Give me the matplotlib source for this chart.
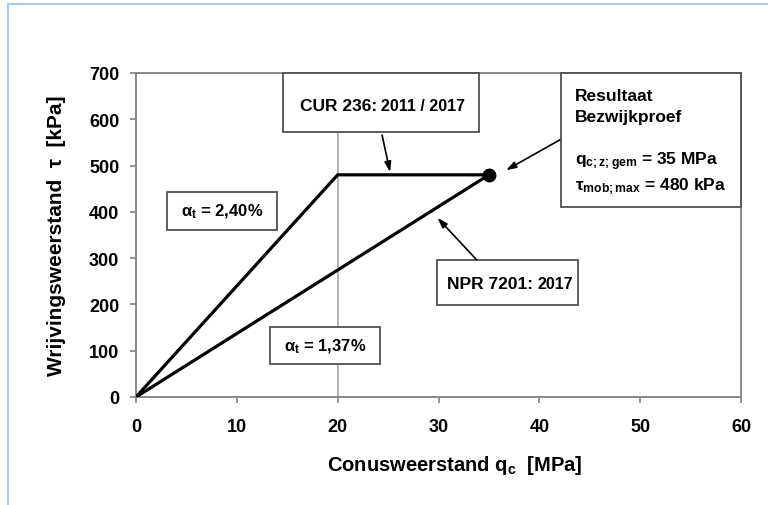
import matplotlib
matplotlib.use("Agg")
import matplotlib.pyplot as plt
from matplotlib.lines import Line2D
from matplotlib.patches import Rectangle

plt.rcParams['font.family'] = ['Liberation Sans', 'DejaVu Sans']
plt.rcParams['font.weight'] = 'bold'
plt.rcParams['mathtext.fontset'] = 'custom'
plt.rcParams['mathtext.rm'] = 'Liberation Sans:bold'
plt.rcParams['mathtext.it'] = 'Liberation Sans:bold'
plt.rcParams['mathtext.bf'] = 'Liberation Sans:bold'

# data
cur_x = [0, 20, 35]
cur_y = [0, 480, 480]
npr_x = [0, 35]
npr_y = [0, 480]
result_x = [35]
result_y = [480]
x_ticks = [0, 10, 20, 30, 40, 50, 60]
y_ticks = [0, 100, 200, 300, 400, 500, 600, 700]

W, H = 768, 506
fig = plt.figure(figsize=(W / 100, H / 100), dpi=100)
ax = fig.add_axes([136 / W, 1 - 398 / H, (741 - 136) / W, (398 - 74) / H])

ax.set_xlim(0, 60)
ax.set_ylim(0, 700)
ax.set_xticks(x_ticks)
ax.set_yticks(y_ticks)
ax.tick_params(axis='both', labelsize=13, direction='out', length=4, color='#808080', width=1.2)
ax.tick_params(axis='x', pad=11)
ax.tick_params(axis='y', pad=8)
for lab in ax.get_xticklabels() + ax.get_yticklabels():
    lab.set_fontweight('bold')
for s in ax.spines.values():
    s.set_color('#888888')
    s.set_linewidth(1.4)

ax.axvline(20, color='#a8a8a8', lw=1.2, zorder=1)

ax.plot(cur_x, cur_y, color='black', lw=2.3, zorder=3, solid_capstyle='round')
ax.plot(npr_x, npr_y, color='black', lw=2.3, zorder=3, solid_capstyle='round')
ax.plot(result_x, result_y, 'o', color='black', ms=9, zorder=4)

ax.set_xlabel(r'Conusweerstand $\mathregular{q_c}$  [MPa]', fontsize=14.5, fontweight='bold')
ax.set_ylabel('Wrijvingsweerstand  τ  [kPa]', fontsize=15, fontweight='bold')
ax.xaxis.set_label_coords(0.527, -0.172)
ax.yaxis.set_label_coords(-0.116, 0.5)

ec = '#505050'


def box(x0, x1, y0, y1, z=5):
    ax.add_patch(Rectangle((x0, y0), x1 - x0, y1 - y0, fc='white', ec=ec, lw=1.3,
                           zorder=z, clip_on=False))


# CUR box
box(14.58, 34.02, 572.5, 700)
ax.text(23.9, 629, 'CUR 236:', fontsize=12.5, fontweight='bold', ha='right', va='center', zorder=6)
ax.text(24.3, 629, '2011 / 2017', fontsize=11.5, fontweight='bold', ha='left', va='center', zorder=6)

# alpha boxes
box(3.07, 13.98, 360.8, 442.9)
ax.text(8.53, 402, r'$\mathregular{\alpha_t}$ = 2,40%', fontsize=12, fontweight='bold',
        ha='center', va='center', zorder=6)
box(13.29, 24.2, 71.3, 151.2)
ax.text(18.74, 111, r'$\mathregular{\alpha_t}$ = 1,37%', fontsize=12, fontweight='bold',
        ha='center', va='center', zorder=6)

# NPR box
box(29.85, 43.83, 198.8, 296)
ax.text(39.37, 246, 'NPR 7201:', fontsize=12.5, fontweight='bold', ha='right', va='center', zorder=6)
ax.text(39.77, 246, '2017', fontsize=11.5, fontweight='bold', ha='left', va='center', zorder=6)

# Resultaat box
box(42.15, 60, 410.5, 700, z=7)
ax.text(43.54, 652, 'Resultaat', fontsize=12.5, fontweight='bold', ha='left', va='center', zorder=8)
ax.text(43.54, 605, 'Bezwijkproef', fontsize=12.5, fontweight='bold', ha='left', va='center', zorder=8)
ax.text(43.54, 510, r'$\mathregular{q_{c{;}z{;}gem}}$ = 35 MPa', fontsize=12.5, fontweight='bold',
        ha='left', va='center', zorder=8)
ax.text(43.54, 456, r'$\mathregular{\tau_{mob{;}max}}$ = 480 kPa', fontsize=12.5, fontweight='bold',
        ha='left', va='center', zorder=8)

arrow = dict(arrowstyle='-|>,head_length=0.6,head_width=0.2', color='black', lw=1.2, shrinkA=0, shrinkB=0)
ax.annotate('', xy=(25.2, 486), xytext=(24.4, 566), arrowprops=arrow, zorder=5)
ax.annotate('', xy=(29.9, 387), xytext=(33.8, 296), arrowprops=arrow, zorder=5)
ax.annotate('', xy=(36.7, 490), xytext=(42.15, 557), arrowprops=arrow, zorder=5)

# figure border (light blue)
fig.add_artist(Line2D([8 / W, 8 / W], [0, 1 - 5 / H], color='#a8c8e8', lw=1.5))
fig.add_artist(Line2D([8 / W, 1], [1 - 5 / H, 1 - 5 / H], color='#a8c8e8', lw=1.5))

fig.savefig('out.png', dpi=100)
